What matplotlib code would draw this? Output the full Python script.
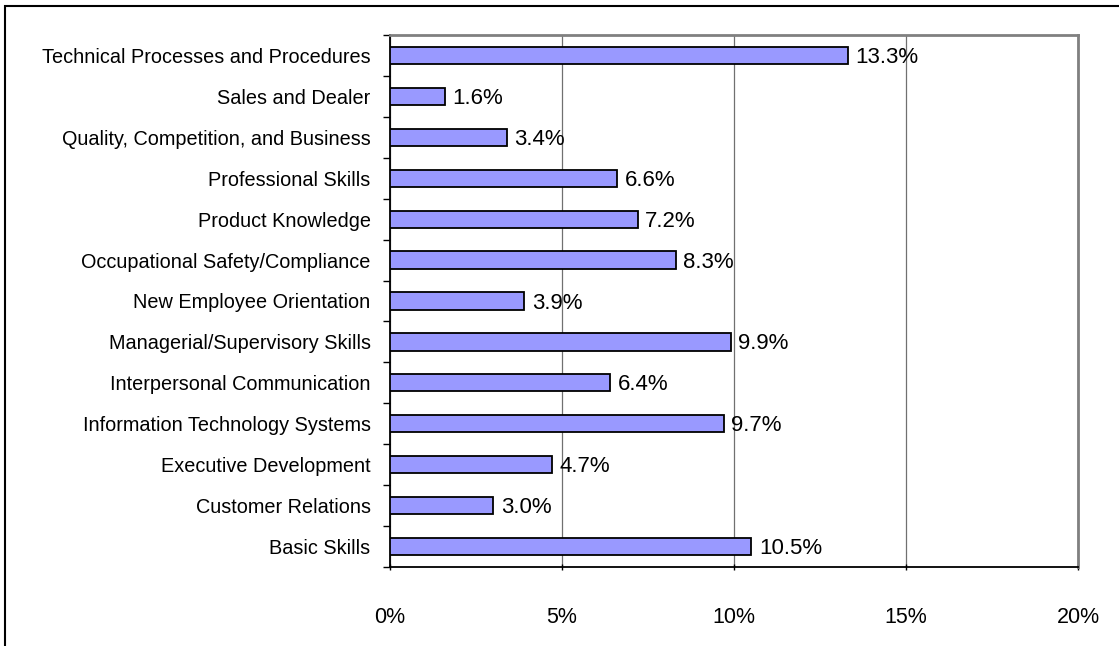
import numpy as np
import matplotlib
matplotlib.use("Agg")
import matplotlib.pyplot as plt
from matplotlib.patches import Rectangle

# categories listed bottom to top
categories = ["Basic Skills", "Customer Relations", "Executive Development",
              "Information Technology Systems", "Interpersonal Communication",
              "Managerial/Supervisory Skills", "New Employee Orientation",
              "Occupational Safety/Compliance", "Product Knowledge",
              "Professional Skills", "Quality, Competition, and Business",
              "Sales and Dealer", "Technical Processes and Procedures"]
values = [10.5, 3.0, 4.7, 9.7, 6.4, 9.9, 3.9, 8.3, 7.2, 6.6, 3.4, 1.6, 13.3]
xticks = [0, 5, 10, 15, 20]

plt.rcParams['font.family'] = ['Liberation Sans', 'DejaVu Sans']

fig = plt.figure(figsize=(11.19, 6.46), dpi=100)
ax = fig.add_axes([390/1119, 1 - 567/646, (1078 - 390)/1119, (567 - 35)/646])

y = np.arange(len(categories))
ax.barh(y, values, height=0.42, color='#9999FF', edgecolor='black', linewidth=1.3, zorder=3)
for yi, v in zip(y, values):
    ax.text(v + 0.22, yi - 0.05, f"{v:.1f}%", va='center', ha='left', fontsize=16, zorder=4)

ax.set_xlim(0, 20)
ax.set_ylim(-0.5, len(categories) - 0.5)
ax.set_xticks(xticks)
ax.set_xticklabels([f"{t}%" for t in xticks], fontsize=15.5)
ax.set_yticks(y)
ax.set_yticklabels(categories, fontsize=14.3)
ax.set_yticks(np.arange(len(categories) + 1) - 0.5, minor=True)
ax.tick_params(axis='y', which='major', length=0, pad=14)
ax.tick_params(axis='y', which='minor', length=5, width=1, direction='out')
ax.tick_params(axis='x', which='major', length=5, width=1, direction='inout', pad=26)

ax.grid(axis='x', color='#707070', linewidth=0.9, zorder=0)
for s in ['top', 'right']:
    ax.spines[s].set_color('#808080')
    ax.spines[s].set_linewidth(2)
for s in ['left', 'bottom']:
    ax.spines[s].set_color('black')
    ax.spines[s].set_linewidth(1.3)

# outer frame of the chart
fig.patches.append(Rectangle((5/1119, -0.05), 1.2, 1 - 6/646 + 0.05, transform=fig.transFigure,
                             fill=False, edgecolor='black', linewidth=1.5))

fig.savefig("out.png", dpi=100)
